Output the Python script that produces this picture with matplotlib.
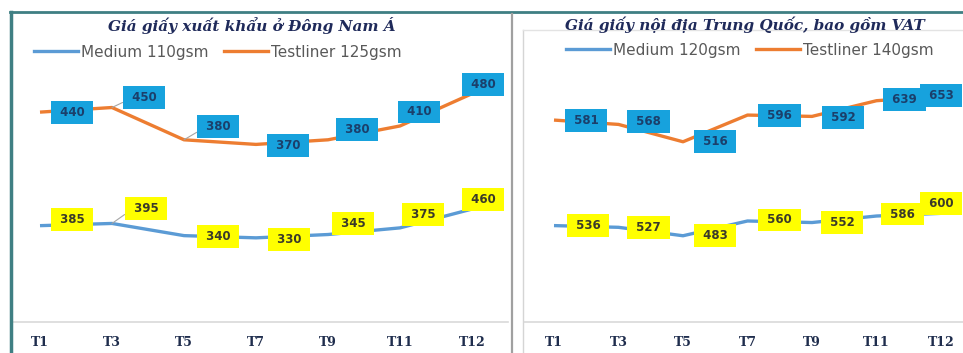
import matplotlib.pyplot as plt
from matplotlib.lines import Line2D

# months shown on the category axis
months = ['T1', 'T3', 'T5', 'T7', 'T9', 'T11', 'T12']

# left chart: export paper price, South-East Asia
sea_medium = [385, 395, 340, 330, 345, 375, 460]
sea_testliner = [440, 450, 380, 370, 380, 410, 480]

# right chart: China domestic price incl. VAT
cn_medium = [536, 527, 483, 560, 552, 586, 600]
cn_testliner = [581, 568, 516, 596, 592, 639, 653]

blue = '#5b9bd5'
orange = '#ed7d31'
cyan_box = '#17a2dd'
yellow_box = '#ffff00'
teal = '#3f7f83'

# label offsets (pixels) from each point, like Excel placed them
off_sea_t = [(32, 0), (32, 10), (34, 13), (32, -1), (29, 10), (19, 14), (11, 9)]
off_sea_m = [(32, 6), (34, 15), (34, -1), (33, -2), (25, 11), (23, 13), (11, 10)]
off_cn_t = [(32, 0), (30, 3), (32, 0), (32, 0), (31, -1), (28, 1), (0, 1)]
off_cn_m = [(34, 0), (30, 0), (32, 0), (32, 1), (30, 0), (26, 2), (0, 10)]
leaders_sea_t = [1, 2]
leaders_sea_m = [1]

W, H = 963, 353
fig = plt.figure(figsize=(W / 100, H / 100), dpi=100)


def px_axes(x0, x1, y0, y1):
    return fig.add_axes([x0 / W, 1 - y1 / H, (x1 - x0) / W, (y1 - y0) / H])


def labels(ax, vals, offs, fc, tc, leaders=()):
    for i, v in enumerate(vals):
        arrow = None
        if i in leaders:
            arrow = dict(arrowstyle='-', color='#a5a5a5', lw=0.8,
                         shrinkA=0, shrinkB=0, relpos=(0, 0.3))
        ax.annotate(' %d ' % v, (i, v), xytext=offs[i],
                    textcoords='offset pixels', ha='center', va='center',
                    fontsize=8.5, fontweight='bold', color=tc,
                    bbox=dict(boxstyle='square,pad=0.42', fc=fc, ec='none'),
                    arrowprops=arrow, zorder=5)


def panel(x0, x1, first_px, step_px, med, test, lim_m, lim_t, offs_m, offs_t,
          lead_m=(), lead_t=()):
    ax = px_axes(x0, x1, 60, 322)
    axt = ax.twinx()
    ax.plot(range(len(med)), med, color=blue, lw=2.4, solid_capstyle='butt')
    axt.plot(range(len(test)), test, color=orange, lw=2.4, solid_capstyle='butt')
    ax.set_ylim(*lim_m)
    axt.set_ylim(*lim_t)
    xl = ((x0 - first_px) / step_px, (x1 - first_px) / step_px)
    ax.set_xlim(*xl)
    axt.set_xlim(*xl)
    labels(ax, med, offs_m, yellow_box, '#3a3a2a', lead_m)
    labels(axt, test, offs_t, cyan_box, '#1b3f6b', lead_t)
    for a in (ax, axt):
        for s in a.spines.values():
            s.set_visible(False)
        a.set_yticks([])
    ax.spines['bottom'].set_visible(True)
    ax.spines['bottom'].set_color('#d9d9d9')
    ax.spines['bottom'].set_linewidth(1.2)
    ax.set_xticks(range(len(months)))
    ax.set_xticklabels(months, family='DejaVu Serif', fontweight='bold',
                       fontsize=9, color='#1f2d4d')
    ax.tick_params(axis='x', length=0, pad=10)
    ax.patch.set_alpha(0)
    return ax


panel(12, 508, 40, 72, sea_medium, sea_testliner, (-50, 1133), (-15, 553),
      off_sea_m, off_sea_t, leaders_sea_m, leaders_sea_t)
panel(524, 963, 554, 64.5, cn_medium, cn_testliner, (33, 1400), (-24, 761),
      off_cn_m, off_cn_t)

# titles
title_kw = dict(ha='center', va='center', family='DejaVu Serif',
                fontweight='bold', style='italic', fontsize=11, color='#1f2a5a')
fig.text(252 / W, 1 - 25 / H, 'Giá giấy xuất khẩu ở Đông Nam Á', **title_kw)
fig.text(745 / W, 1 - 25 / H, 'Giá giấy nội địa Trung Quốc, bao gồm VAT', **title_kw)


# legends
def legend(cx, cy, names):
    h = [Line2D([], [], color=blue, lw=2.4), Line2D([], [], color=orange, lw=2.4)]
    fig.legend(h, names, loc='center', bbox_to_anchor=(cx / W, 1 - cy / H),
               ncol=2, frameon=False, fontsize=11, labelcolor='#595959',
               handlelength=2.9, handletextpad=0.2, columnspacing=1.0)


legend(218, 52, ['Medium 110gsm', 'Testliner 125gsm'])
legend(750, 50, ['Medium 120gsm', 'Testliner 140gsm'])

# frames from the screenshot
fig.add_artist(Line2D([10 / W, 1], [1 - 12 / H] * 2, color=teal, lw=2))
fig.add_artist(Line2D([11 / W] * 2, [0, 1 - 12 / H], color=teal, lw=2.5))
fig.add_artist(Line2D([512 / W] * 2, [0, 1 - 14 / H], color='#a0a0a0', lw=1.6))
fig.add_artist(Line2D([523 / W] * 2, [0, 1 - 30 / H], color='#d5d5d5', lw=1))
fig.add_artist(Line2D([523 / W, 1], [1 - 30 / H] * 2, color='#e3e3e3', lw=1))

fig.savefig('out.png', dpi=100)
